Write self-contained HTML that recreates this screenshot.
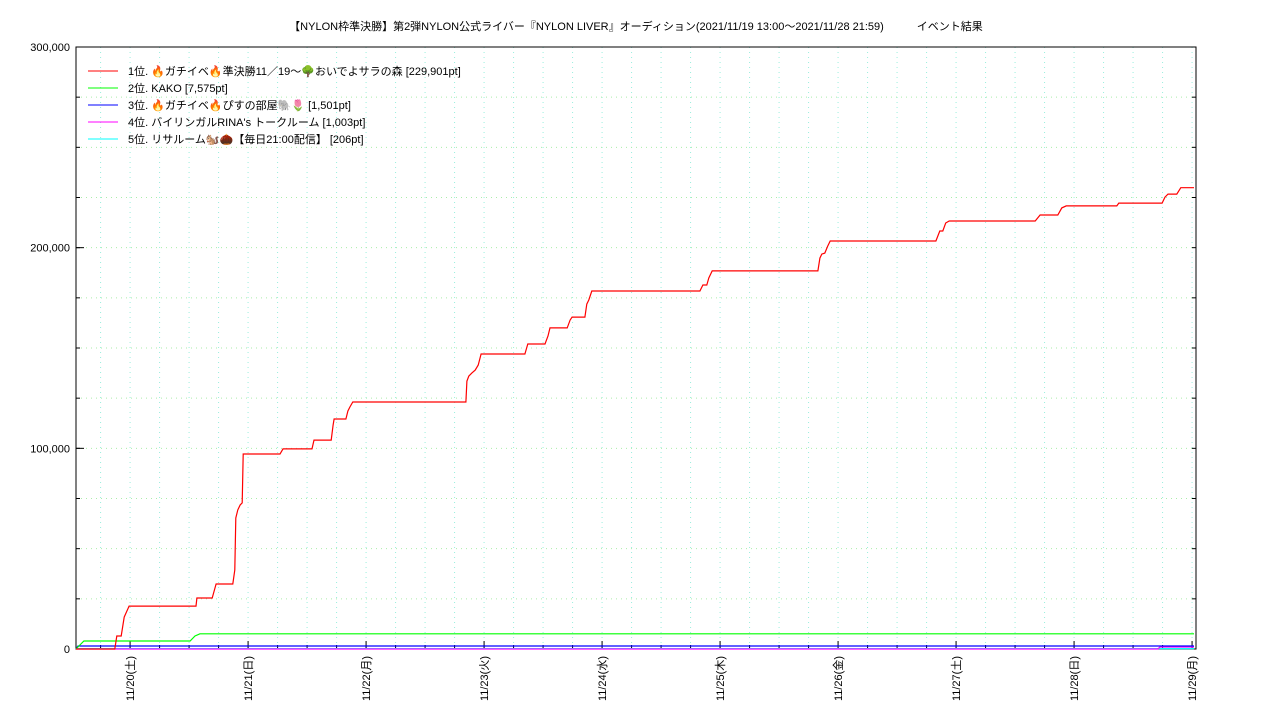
<!DOCTYPE html>
<html><head><meta charset="utf-8">
<style>
html,body{margin:0;padding:0;background:#fff;}
svg{display:block;font-family:"Liberation Sans","Noto Sans CJK JP",sans-serif;}
</style></head>
<body>
<svg id="chart" width="1280" height="720" viewBox="0 0 1280 720" xmlns="http://www.w3.org/2000/svg">
<text x="636" y="30" font-size="11" text-anchor="middle">【NYLON枠準決勝】第2弾NYLON公式ライバー『NYLON LIVER』オーディション(2021/11/19 13:00〜2021/11/28 21:59)　　　イベント結果</text>
<g id="grid"></g><g id="axes"></g><g id="series"></g><g id="legend"></g>
</svg>
<script>
// hours since 11/19 13:00
const redT=[0,7.9,8.3,9.2,9.8,10.8,24.4,24.6,27.7,28.5,31.9,32.3,32.5,32.9,33.4,33.8,34.0,41.5,42.1,48.0,48.4,51.9,52.3,52.5,54.9,55.3,55.7,56.3,79.3,79.5,79.9,80.5,81.2,81.8,82.4,91.3,91.9,95.4,96.0,96.4,99.9,100.5,100.9,103.5,103.9,104.3,104.9,126.9,127.5,128.3,128.7,129.4,150.9,151.3,151.7,152.3,152.9,153.4,174.9,175.7,176.3,176.9,177.6,195.1,196.1,199.7,200.5,201.4,211.7,212.1,220.9,221.5,222.1,223.9,224.7,227.4];
const redV=[0,0,6500,6500,15900,21400,21400,25400,25400,32400,32400,39400,65300,69300,71800,72800,97200,97200,99700,99700,104100,104100,111600,114600,114600,118600,120600,123100,123100,133500,136000,137500,139000,141500,147000,147000,152000,152000,156000,160000,160000,163900,165400,165400,171900,173900,178400,178400,181400,181400,184900,188400,188400,194800,196800,197300,200800,203300,203300,208300,208300,212300,213300,213300,216300,216300,219800,220800,220800,222200,222200,225200,226700,226700,229900,229901];
const greenT=[0,0.8,1.6,23.2,24.2,25.2,227.4];
const greenV=[0,2000,4000,4000,6500,7575,7575];
const blueT=[0,0.4,227.4];
const blueV=[0,1501,1501];
const magT=[0,220.0,220.5,227.4];
const magV=[0,0,1003,1003];
const cyanT=[0,0.5,227.4];
const cyanV=[0,206,206];
const yTicks=[0,100000,200000,300000];
const yTickLabels=["0","100,000","200,000","300,000"];
const xDayHours=[11,35,59,83,107,131,155,179,203,227];
const xDayLabels=["11/20(土)","11/21(日)","11/22(月)","11/23(火)","11/24(水)","11/25(木)","11/26(金)","11/27(土)","11/28(日)","11/29(月)"];
const legendLabels=["1位. 🔥ガチイベ🔥準決勝11／19〜🌳おいでよサラの森 [229,901pt]","2位. KAKO [7,575pt]","3位. 🔥ガチイベ🔥ぴすの部屋🐘🌷 [1,501pt]","4位. バイリンガルRINA's トークルーム [1,003pt]","5位. リサルーム🐿️🌰【毎日21:00配信】 [206pt]"];
const colors=["#ff0000","#00ff00","#0000ff","#ff00ff","#00ffff"];

const L=76,R=1196,T=47,B=649,H0=0,H1=227.8,YMAX=300000;
const xs=h=>L+(h-H0)/(H1-H0)*(R-L);
const ys=v=>B-v/YMAX*(B-T);
const NS="http://www.w3.org/2000/svg";
function mk(tag,attrs,parent){const e=document.createElementNS(NS,tag);for(const k in attrs)e.setAttribute(k,attrs[k]);parent.appendChild(e);return e;}
const grid=document.getElementById('grid'),axes=document.getElementById('axes'),series=document.getElementById('series'),legend=document.getElementById('legend');

// grid lines every 6h and every 25k
for(let h=5;h<H1;h+=6){
  const x=xs(h);
  const g=mk('line',{x1:x,x2:x,y1:T,y2:B,stroke:'#99eedd','stroke-dasharray':'1,4','stroke-width':1},grid);
  
  
  const t=mk('line',{x1:x,x2:x,y1:B,y2:B-4,stroke:'#000'},axes);
  
  
}
for(let v=25000;v<YMAX;v+=25000){
  const y=ys(v);
  const g=mk('line',{x1:L,x2:R,y1:y,y2:y,stroke:'#aaeeaa','stroke-dasharray':'1,4','stroke-width':1},grid);
  
  
  const t1=mk('line',{x1:L,x2:L+4,y1:y,y2:y,stroke:'#000'},axes);
  
  
  const t2=mk('line',{x1:R,x2:R-4,y1:y,y2:y,stroke:'#000'},axes);
  
  
}
const frame=mk('rect',{x:L,y:T,width:R-L,height:B-T,fill:'none',stroke:'#000','stroke-width':1},axes);



yTicks.forEach((v,i)=>{
  const y=ys(v);
  const tk=mk('line',{x1:L,x2:L+8,y1:y,y2:y,stroke:'#000'},axes);
  
  
  const tx=mk('text',{x:70,y:y+4,'font-size':11,'text-anchor':'end'},axes);
  tx.textContent=yTickLabels[i];
  
  
});
xDayHours.forEach((h,i)=>{
  const x=xs(h);
  const tk=mk('line',{x1:x,x2:x,y1:B,y2:B-8,stroke:'#000'},axes);
  
  
  const tx=mk('text',{x:0,y:0,'font-size':11,'text-anchor':'end',transform:`translate(${x+4},656) rotate(-90)`},axes);
  tx.textContent=xDayLabels[i];
  
  
});

function drawLine(T_,V_,color,name){
  const d=T_.map((t,i)=>(i?'L':'M')+xs(t).toFixed(1)+','+ys(V_[i]).toFixed(1)).join(' ');
  const p=mk('path',{d:d,fill:'none',stroke:color,'stroke-width':1.2},series);
  
  
}
drawLine(cyanT,cyanV,colors[4],'series-5th-line');
drawLine(magT,magV,colors[3],'series-4th-line');
drawLine(blueT,blueV,colors[2],'series-3rd-line');
drawLine(greenT,greenV,colors[1],'series-2nd-line');
drawLine(redT,redV,colors[0],'series-1st-line');

legendLabels.forEach((lab,i)=>{
  const y=71+i*17;
  const g=mk('g',{},legend);
  
  
  mk('line',{x1:88,x2:118,y1:y,y2:y,stroke:colors[i],'stroke-width':1},g);
  const t=mk('text',{x:128,y:y+4,'font-size':11},g);
  t.textContent=lab;
});
</script>
</body></html>
